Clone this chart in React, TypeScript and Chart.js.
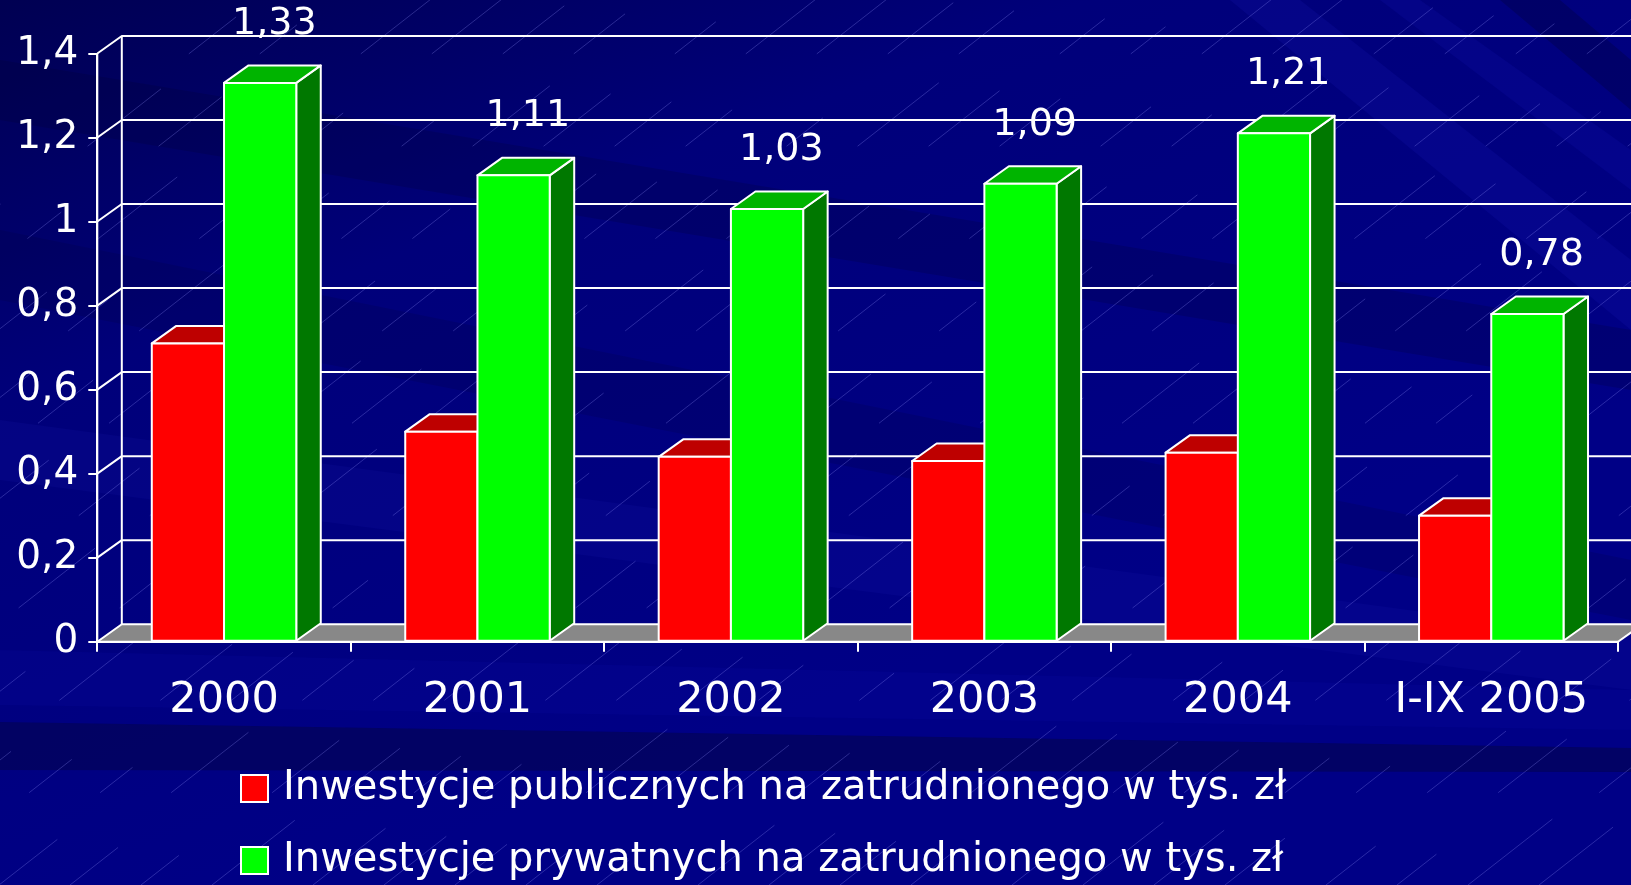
import React, { useEffect, useRef } from 'react';
import { Chart, registerables } from 'chart.js';

Chart.register(...registerables);

const categories = ['2000', '2001', '2002', '2003', '2004', 'I-IX 2005'];
const publicValues = [0.71, 0.5, 0.44, 0.43, 0.45, 0.3];
const privateValues = [1.33, 1.11, 1.03, 1.09, 1.21, 0.78];
const seriesNames = [
  'Inwestycje publicznych na zatrudnionego w tys. zł',
  'Inwestycje prywatnych na zatrudnionego w tys. zł',
];
const yMin = 0;
const yMax = 1.4;
const yStep = 0.2;

const FONT = '"DejaVu Sans", "Noto Sans", sans-serif';
const DX = 24.5;
const DY = -17.5;
const W = 1631;
const H = 885;

const faceColors = [
  { front: '#ff0000', top: '#be0000', side: '#800000' },
  { front: '#00ff00', top: '#00b400', side: '#007800' },
];

const fmt = (v: number) => String(Math.round(v * 100) / 100).replace('.', ',');

function drawBackground(ctx: CanvasRenderingContext2D, w: number, h: number) {
  const g = ctx.createLinearGradient(0, 0, w * 0.2, h);
  g.addColorStop(0, '#000052');
  g.addColorStop(0.4, '#00007a');
  g.addColorStop(1, '#000086');
  ctx.fillStyle = g;
  ctx.fillRect(0, 0, w, h);

  const poly = (pts: number[][], c: string) => {
    ctx.fillStyle = c;
    ctx.beginPath();
    ctx.moveTo(pts[0][0], pts[0][1]);
    for (let i = 1; i < pts.length; i++) ctx.lineTo(pts[i][0], pts[i][1]);
    ctx.closePath();
    ctx.fill();
  };

  // subtle shallow bands (descending to the right)
  poly([[0, 60], [w, 330], [w, 390], [0, 120]], 'rgba(0,0,40,0.18)');
  poly([[0, 230], [w, 560], [w, 620], [0, 300]], 'rgba(0,0,40,0.14)');
  poly([[0, 420], [w, 640], [w, 690], [0, 480]], 'rgba(30,30,190,0.12)');
  poly([[0, 650], [w, 690], [w, 730], [0, 705]], 'rgba(20,20,200,0.10)');
  // dark band under the axis labels
  poly([[0, 722], [w, 748], [w, 772], [0, 770]], 'rgba(3,3,90,0.75)');
  // steep light streaks at top right
  poly([[1230, 0], [1300, 0], [w, 260], [w, 330]], 'rgba(25,25,190,0.18)');
  poly([[1380, 0], [1420, 0], [w, 150], [w, 190]], 'rgba(25,25,190,0.16)');
  poly([[1500, 0], [1560, 0], [w, 60], [w, 110]], 'rgba(0,0,40,0.25)');

  // thin hatch lines rising to the right
  ctx.save();
  ctx.strokeStyle = 'rgba(150,150,255,0.28)';
  ctx.lineWidth = 1;
  const ang = (38 * Math.PI) / 180;
  const ux = Math.cos(ang);
  const uy = -Math.sin(ang);
  let k = 0;
  for (let c = -h; c < w + h; c += 78) {
    for (let s = 0; s < 1600; s += 150) {
      k++;
      const len = 40 + ((k * 37) % 70);
      const sx = c + ux * s + ((k * 13) % 30);
      const sy = h + uy * s;
      ctx.beginPath();
      ctx.moveTo(sx, sy);
      ctx.lineTo(sx + ux * len, sy + uy * len);
      ctx.stroke();
    }
  }
  ctx.restore();
}

const bgPlugin = {
  id: 'bg3d',
  beforeDraw(chart: any) {
    const ctx = chart.ctx as CanvasRenderingContext2D;
    ctx.save();
    drawBackground(ctx, chart.width, chart.height);
    ctx.restore();
  },
  beforeDatasetsDraw(chart: any) {
    const ctx = chart.ctx as CanvasRenderingContext2D;
    const ca = chart.chartArea;
    const ys = chart.scales.y;
    const y0 = ys.getPixelForValue(0);
    ctx.save();
    ctx.lineWidth = 2;
    ctx.strokeStyle = '#ffffff';
    ctx.lineJoin = 'round';
    // floor
    ctx.fillStyle = '#888888';
    ctx.beginPath();
    ctx.moveTo(ca.left, y0);
    ctx.lineTo(ca.right, y0);
    ctx.lineTo(ca.right + DX, y0 + DY);
    ctx.lineTo(ca.left + DX, y0 + DY);
    ctx.closePath();
    ctx.fill();
    ctx.beginPath();
    ctx.moveTo(ca.right, y0);
    ctx.lineTo(ca.right + DX, y0 + DY);
    ctx.stroke();
    // back wall grid + side wall diagonals
    ys.ticks.forEach((t: any) => {
      const py = ys.getPixelForValue(t.value);
      ctx.beginPath();
      ctx.moveTo(ca.left, py);
      ctx.lineTo(ca.left + DX, py + DY);
      ctx.lineTo(chart.width + 40, py + DY);
      ctx.stroke();
    });
    // back wall vertical edge
    ctx.beginPath();
    ctx.moveTo(ca.left + DX, y0 + DY);
    ctx.lineTo(ca.left + DX, ys.getPixelForValue(yMax) + DY);
    ctx.stroke();
    // front axis lines
    ctx.beginPath();
    ctx.moveTo(ca.left, ys.getPixelForValue(yMax));
    ctx.lineTo(ca.left, y0);
    ctx.lineTo(ca.right, y0);
    ctx.stroke();
    ctx.restore();
  },
  afterDatasetsDraw(chart: any) {
    const ctx = chart.ctx as CanvasRenderingContext2D;
    ctx.save();
    ctx.lineWidth = 2;
    ctx.strokeStyle = '#ffffff';
    ctx.lineJoin = 'round';
    const n = chart.data.labels.length;
    for (let i = 0; i < n; i++) {
      for (let d = 0; d < 2; d++) {
        const el = chart.getDatasetMeta(d).data[i];
        const p = el.getProps(['x', 'y', 'base', 'width'], true);
        const l = p.x - p.width / 2;
        const r = p.x + p.width / 2;
        const top = p.y;
        const base = p.base;
        const c = faceColors[d];
        // side
        ctx.fillStyle = c.side;
        ctx.beginPath();
        ctx.moveTo(r, base);
        ctx.lineTo(r + DX, base + DY);
        ctx.lineTo(r + DX, top + DY);
        ctx.lineTo(r, top);
        ctx.closePath();
        ctx.fill();
        ctx.stroke();
        // top
        ctx.fillStyle = c.top;
        ctx.beginPath();
        ctx.moveTo(l, top);
        ctx.lineTo(l + DX, top + DY);
        ctx.lineTo(r + DX, top + DY);
        ctx.lineTo(r, top);
        ctx.closePath();
        ctx.fill();
        ctx.stroke();
        // front
        ctx.fillStyle = c.front;
        ctx.beginPath();
        ctx.rect(l, top, r - l, base - top);
        ctx.fill();
        ctx.stroke();
      }
    }
    // value labels for private series
    ctx.fillStyle = '#ffffff';
    ctx.font = `38px ${FONT}`;
    ctx.textAlign = 'center';
    ctx.textBaseline = 'middle';
    const meta = chart.getDatasetMeta(1);
    meta.data.forEach((el: any, i: number) => {
      const p = el.getProps(['x', 'y'], true);
      ctx.fillText(fmt(privateValues[i]), p.x + DX / 2 + 2, p.y - 59);
    });
    ctx.restore();
  },
  afterDraw(chart: any) {
    const ctx = chart.ctx as CanvasRenderingContext2D;
    ctx.save();
    ctx.font = `40px ${FONT}`;
    ctx.textAlign = 'left';
    ctx.textBaseline = 'middle';
    const rows = [788, 860];
    seriesNames.forEach((name, i) => {
      const cy = rows[i];
      ctx.fillStyle = faceColors[i].front;
      ctx.fillRect(241, cy - 13, 27, 27);
      ctx.strokeStyle = '#ffffff';
      ctx.lineWidth = 2;
      ctx.strokeRect(241, cy - 13, 27, 27);
      ctx.fillStyle = '#ffffff';
      ctx.fillText(name, 283, cy + 1);
    });
    ctx.restore();
  },
};

export default function App() {
  const ref = useRef<HTMLCanvasElement | null>(null);
  useEffect(() => {
    document.body.style.margin = '0';
    document.body.style.background = '#000070';
    const canvas = ref.current;
    if (!canvas) return;
    const chart = new Chart(canvas, {
      type: 'bar',
      data: {
        labels: categories,
        datasets: [
          {
            label: seriesNames[0],
            data: publicValues,
            backgroundColor: 'rgba(0,0,0,0)',
            borderWidth: 0,
            barPercentage: 1,
            categoryPercentage: 0.57,
          },
          {
            label: seriesNames[1],
            data: privateValues,
            backgroundColor: 'rgba(0,0,0,0)',
            borderWidth: 0,
            barPercentage: 1,
            categoryPercentage: 0.57,
          },
        ],
      },
      options: {
        responsive: false,
        animation: false,
        devicePixelRatio: 1,
        layout: { padding: { top: 53.5, right: 13, left: 0, bottom: 0 } },
        plugins: {
          legend: { display: false },
          tooltip: { enabled: false },
        },
        scales: {
          x: {
            grid: {
              display: true,
              offset: true,
              drawOnChartArea: false,
              drawTicks: true,
              tickLength: 10,
              color: '#ffffff',
              lineWidth: 2,
            },
            border: { display: true, color: '#ffffff', width: 2 },
            ticks: {
              color: '#ffffff',
              font: { family: FONT, size: 43 },
              padding: 23,
              maxRotation: 0,
              autoSkip: false,
            },
            afterFit: (s: any) => {
              s.height = 885 - 641.7;
            },
          },
          y: {
            min: yMin,
            max: yMax,
            grid: {
              display: true,
              drawOnChartArea: false,
              drawTicks: true,
              tickLength: 9,
              color: '#ffffff',
              lineWidth: 2,
            },
            border: { display: true, color: '#ffffff', width: 2 },
            ticks: {
              stepSize: yStep,
              color: '#ffffff',
              font: { family: FONT, size: 39 },
              padding: 10,
              callback: (v: any) => fmt(Number(v)),
            },
            afterFit: (s: any) => {
              s.width = 97.3;
            },
          },
        },
      },
      plugins: [bgPlugin],
    });
    return () => chart.destroy();
  }, []);
  return (
    <canvas
      ref={ref}
      width={W}
      height={H}
      style={{ display: 'block', width: W + 'px', height: H + 'px' }}
    />
  );
}
